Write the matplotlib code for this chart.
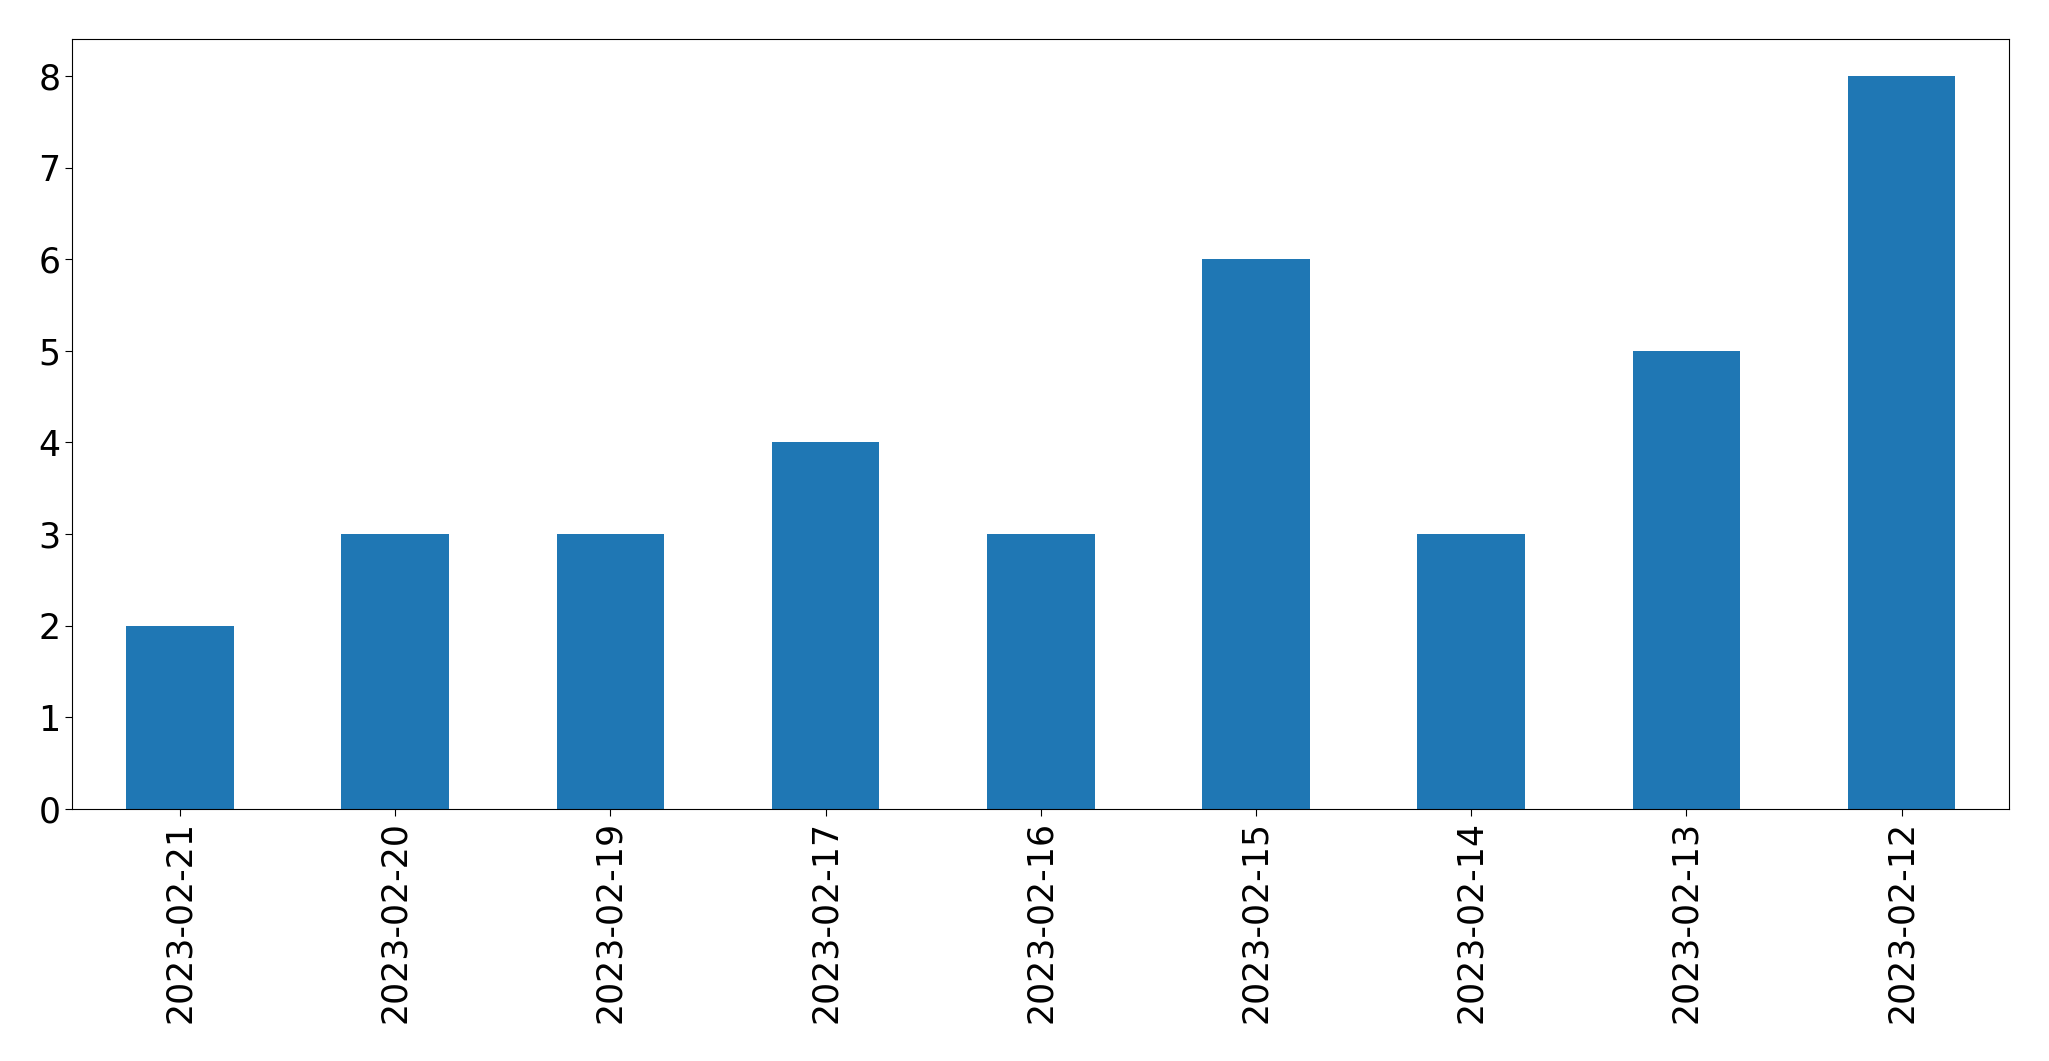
import matplotlib
matplotlib.use('Agg')
import matplotlib.pyplot as plt
import numpy as np

dates = ['2023-02-21', '2023-02-20', '2023-02-19', '2023-02-17', '2023-02-16',
         '2023-02-15', '2023-02-14', '2023-02-13', '2023-02-12']
counts = [2, 3, 3, 4, 3, 6, 3, 5, 8]

fig, ax = plt.subplots(figsize=(20.49, 10.61), dpi=100)
fig.subplots_adjust(left=0.0353, right=0.9806, top=0.963, bottom=0.2375)

x = np.arange(len(dates))
ax.bar(x, counts, width=0.5, color='#1f77b4')
ax.set_xlim(-0.5, len(dates) - 0.5)
ax.set_xticks(x)
ax.set_xticklabels(dates, rotation=90)
ax.tick_params(axis='both', labelsize=25, length=5)

fig.savefig('out.png', dpi=100)
